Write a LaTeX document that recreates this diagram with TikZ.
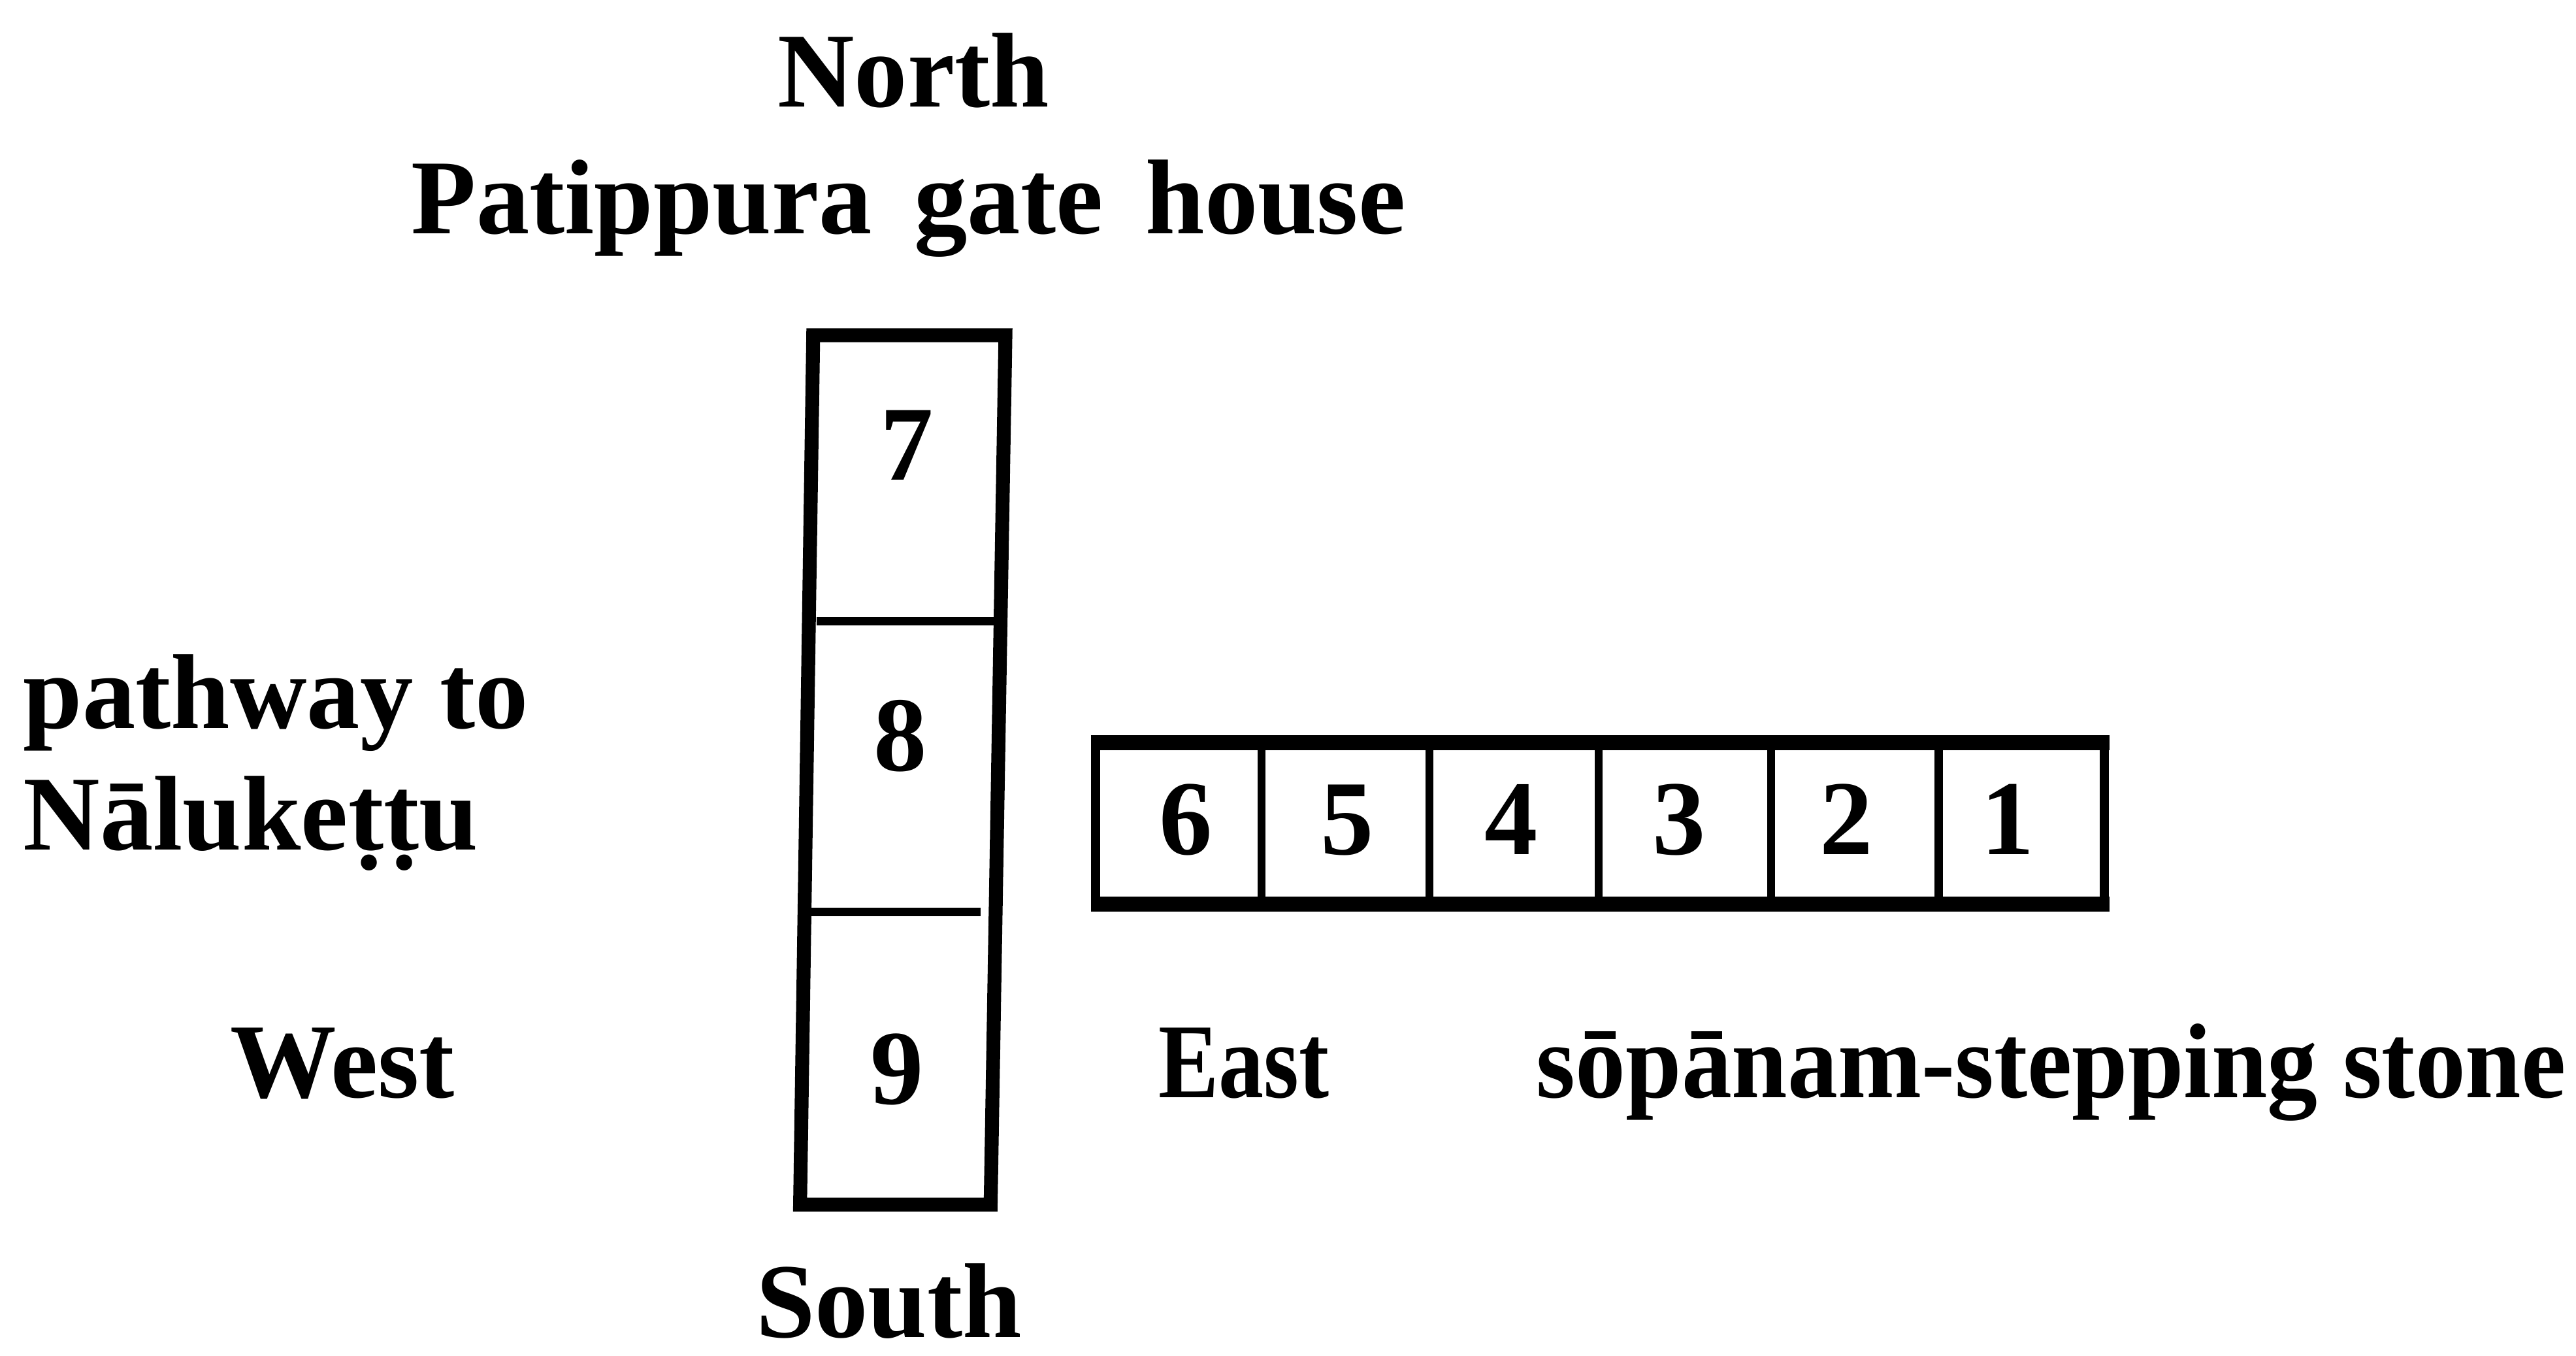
\documentclass[tikz,border=0pt]{standalone}
\usepackage{fontspec}
\usepackage{graphicx}
\setmainfont{Liberation Serif}
\begin{document}
\begin{tikzpicture}[x=0.025cm,y=-0.025cm,
  lbl/.style={inner sep=0pt,font=\fontsize{46}{50}\selectfont\bfseries},
  thick border/.style={line width=6pt,line join=miter},
  thin divider/.style={line width=3.5pt}]
\useasboundingbox (0,0) rectangle (1568,825);
% vertical column (cells 7, 8, 9)
\draw[thick border] (495,204) -- (612,204) -- (603,733) -- (487,733) -- cycle;
\draw[thin divider] (497,378) -- (607,378);
\draw[thin divider] (490,555) -- (597,555);
\node[lbl,anchor=base] (n7) at (552,292) {7};
\node[lbl,anchor=base] (n8) at (548,469) {8};
\node[lbl,anchor=base] (n9) at (546,672) {9};
% horizontal row (cells 6..1)
\draw[line width=4pt] (667,452) -- (667,550);
\draw[line width=4pt] (1281,452) -- (1281,550);
\draw[line width=6.5pt] (664,452) -- (1284,452);
\draw[line width=6.5pt] (664,550) -- (1284,550);
\foreach \xx in {768,870,973,1078,1180}
  \draw[thin divider] (\xx,452) -- (\xx,550);
\node[lbl,anchor=base] (n6) at (722,520) {6};
\node[lbl,anchor=base] (n5) at (820,520) {5};
\node[lbl,anchor=base] (n4) at (920,520) {4};
\node[lbl,anchor=base] (n3) at (1022,520) {3};
\node[lbl,anchor=base] (n2) at (1124,520) {2};
\node[lbl,anchor=base] (n1) at (1222,520) {1};
% labels
\node[lbl,anchor=base] (north) at (556,65) {North};
\node[lbl,anchor=base] (gate) at (553,142) {Patippura\hspace{0.4em}gate\hspace{0.4em}house};
\node[lbl,anchor=base west] (path1) at (14,443) {pathway to};
\node[lbl,anchor=base west] (path2) at (14,517) {Nālukeṭṭu};
\node[lbl,anchor=base west] (west) at (140,668) {West};
\node[lbl,anchor=base west] (east) at (705,668) {\scalebox{0.85}[1]{East}};
\node[lbl,anchor=base west] (sopanam) at (935,668) {\scalebox{0.945}[1]{sōpānam-stepping stone}};
\node[lbl,anchor=base] (south) at (541,814) {South};
\end{tikzpicture}
\end{document}
